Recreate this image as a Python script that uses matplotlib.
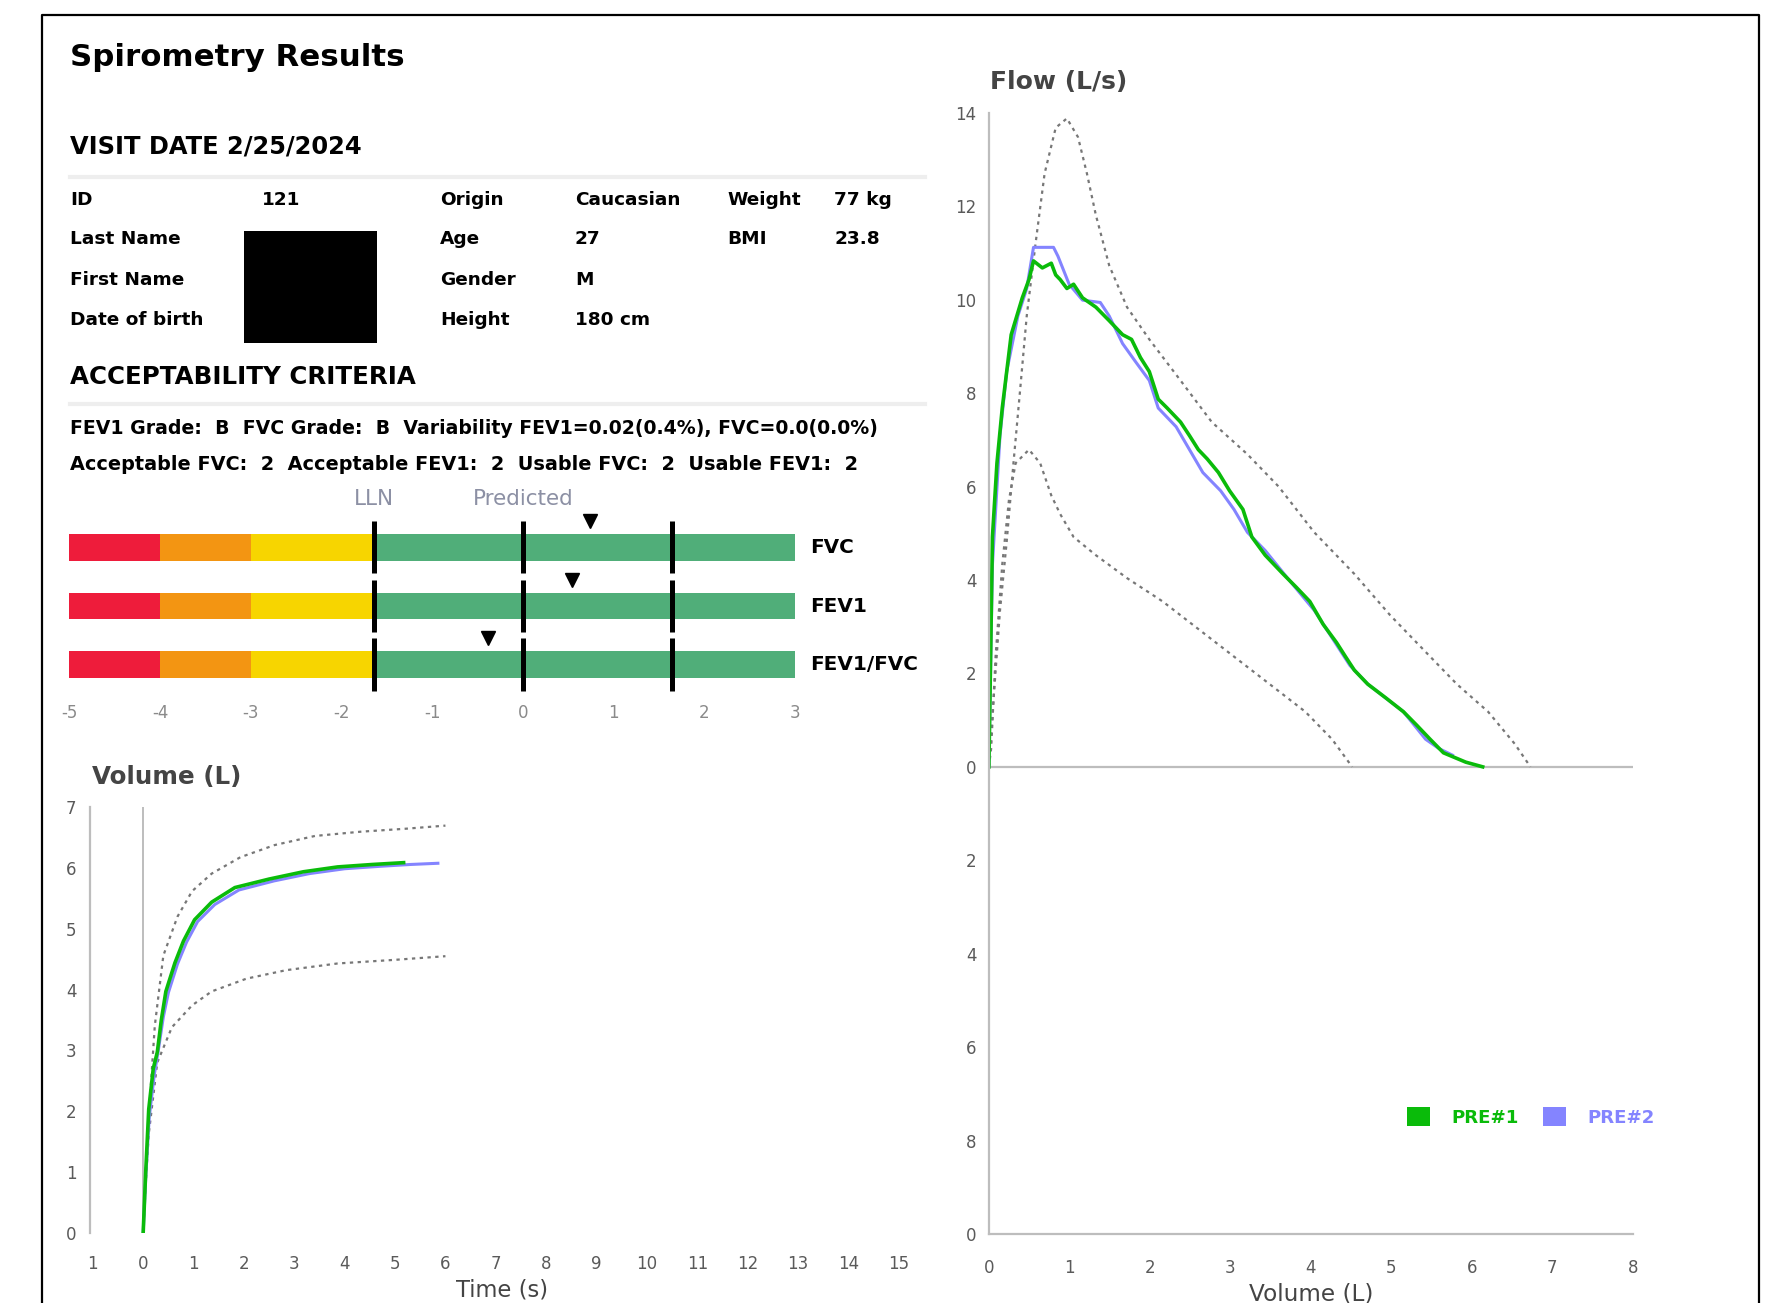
import matplotlib
matplotlib.use('Agg')
import matplotlib.pyplot as plt
from matplotlib.patches import Rectangle, Patch
from matplotlib.lines import Line2D

W, H = 1768, 1303

# ---- patient / session info
info_rows = [
    ('ID', '121', 'Origin', 'Caucasian', 'Weight', '77 kg'),
    ('Last Name', '', 'Age', '27', 'BMI', '23.8'),
    ('First Name', '', 'Gender', 'M', '', ''),
    ('Date of birth', '', 'Height', '180 cm', '', ''),
]
visit_date = '2/25/2024'
criteria_line1 = 'FEV1 Grade:  B  FVC Grade:  B  Variability FEV1=0.02(0.4%), FVC=0.0(0.0%)'
criteria_line2 = 'Acceptable FVC:  2  Acceptable FEV1:  2  Usable FVC:  2  Usable FEV1:  2'

# ---- z-score bars
z_params = ['FVC', 'FEV1', 'FEV1/FVC']
z_scores = [0.74, 0.54, -0.38]
z_lln = -1.645
z_uln = 1.645
z_bands = [(-5, -4, '#ee1c3b'), (-4, -3, '#f39512'), (-3, z_lln, '#f7d500'), (z_lln, 3, '#50ae79')]
z_ticks = [-5, -4, -3, -2, -1, 0, 1, 2, 3]

# ---- volume / time
vt_t1 = [0, 0.05, 0.11, 0.2, 0.28, 0.36, 0.45, 0.63, 0.8, 1.02, 1.36, 1.82, 2.5, 3.18, 3.86, 4.55, 5.17]
vt_v1 = [0, 1.0, 2.03, 2.7, 2.97, 3.5, 3.97, 4.44, 4.8, 5.15, 5.44, 5.68, 5.82, 5.94, 6.02, 6.06, 6.09]
vt_t2 = [0, 0.05, 0.12, 0.22, 0.3, 0.4, 0.5, 0.68, 0.86, 1.08, 1.42, 1.9, 2.6, 3.3, 4.0, 4.7, 5.3, 5.85]
vt_v2 = [0, 0.9, 1.9, 2.6, 3.0, 3.55, 3.95, 4.42, 4.78, 5.12, 5.4, 5.64, 5.79, 5.91, 5.99, 6.03, 6.06, 6.08]
vt_hi_t = [0, 0.05, 0.11, 0.23, 0.4, 0.68, 0.97, 1.36, 1.93, 2.61, 3.41, 4.32, 5.23, 6.0]
vt_hi_v = [0, 1.0, 1.9, 3.4, 4.56, 5.2, 5.62, 5.91, 6.18, 6.38, 6.53, 6.6, 6.65, 6.7]
vt_lo_t = [0, 0.05, 0.11, 0.28, 0.57, 0.97, 1.36, 2.05, 2.84, 3.86, 5.0, 6.0]
vt_lo_v = [0, 0.8, 1.62, 2.8, 3.38, 3.74, 3.97, 4.18, 4.32, 4.43, 4.49, 4.55]
vt_xticks = list(range(-1, 16))
vt_xlabels = ['1'] + [str(i) for i in range(0, 16)]
vt_yticks = list(range(0, 8))

# ---- flow / volume
fv_v1 = [0, 0.044, 0.10, 0.166, 0.277, 0.415, 0.498, 0.554, 0.664, 0.775, 0.83, 0.886, 0.969, 1.052,
         1.163, 1.329, 1.495, 1.661, 1.772, 1.883, 1.993, 2.104, 2.215, 2.381, 2.492, 2.602, 2.713,
         2.852, 2.99, 3.156, 3.267, 3.433, 3.654, 3.821, 3.987, 4.153, 4.319, 4.43, 4.54, 4.707,
         4.928, 5.15, 5.316, 5.482, 5.648, 5.925, 6.135]
fv_f1 = [0, 4.92, 6.5, 7.68, 9.25, 10.04, 10.43, 10.83, 10.68, 10.78, 10.53, 10.43, 10.24, 10.33,
         10.04, 9.84, 9.55, 9.25, 9.15, 8.76, 8.46, 7.87, 7.68, 7.38, 7.09, 6.79, 6.59,
         6.30, 5.91, 5.51, 4.92, 4.53, 4.13, 3.84, 3.54, 3.05, 2.66, 2.36, 2.07, 1.77,
         1.48, 1.18, 0.89, 0.59, 0.30, 0.10, 0]
fv_v2 = [0, 0.044, 0.138, 0.221, 0.36, 0.47, 0.554, 0.692, 0.803, 0.858, 0.997, 1.163, 1.384, 1.495,
         1.661, 1.827, 1.993, 2.104, 2.326, 2.492, 2.658, 2.879, 3.045, 3.212, 3.433, 3.71, 4.042,
         4.264, 4.485, 4.707, 5.15, 5.426, 5.593, 5.76]
fv_f2 = [0, 4.33, 7.09, 8.46, 9.65, 10.24, 11.12, 11.12, 11.12, 10.93, 10.33, 9.99, 9.94, 9.65,
         9.06, 8.66, 8.27, 7.68, 7.28, 6.79, 6.30, 5.91, 5.51, 5.02, 4.63, 4.04, 3.35,
         2.76, 2.17, 1.77, 1.18, 0.59, 0.39, 0.25]
fv_hi_v = [0, 0.055, 0.138, 0.221, 0.305, 0.388, 0.47, 0.581, 0.692, 0.83, 0.969, 1.107, 1.218, 1.329,
           1.495, 1.716, 1.993, 2.381, 2.769, 3.212, 3.599, 4.042, 4.54, 4.983, 5.426, 5.814, 6.202,
           6.534, 6.728]
fv_hi_f = [0, 1.38, 3.35, 4.82, 6.5, 8.07, 9.65, 11.22, 12.7, 13.68, 13.88, 13.48, 12.7, 11.81,
           10.73, 9.84, 9.15, 8.27, 7.38, 6.69, 6.0, 5.02, 4.13, 3.25, 2.46, 1.77, 1.18,
           0.49, 0]
fv_lo_v = [0, 0.028, 0.083, 0.166, 0.249, 0.332, 0.498, 0.637, 0.775, 0.886, 1.052, 1.329, 1.716,
           2.159, 2.602, 3.045, 3.488, 3.931, 4.264, 4.513]
fv_lo_f = [0, 0.39, 2.36, 4.33, 5.71, 6.5, 6.79, 6.5, 5.81, 5.41, 4.92, 4.53, 4.04,
           3.54, 2.95, 2.36, 1.77, 1.18, 0.59, 0]
fv_xticks = list(range(0, 9))
fv_yticks = list(range(-10, 15, 2))
fv_ylabels = ['0', '8', '6', '4', '2', '0', '2', '4', '6', '8', '10', '12', '14']

trial_names = ['PRE#1', 'PRE#2']
trial_colors = ['#0abb0a', '#8484ff']
PRED_COLOR = '#777777'
AXIS_GRAY = '#bdbdbd'
TICK_GRAY = '#5a5a5a'

plt.rcParams['font.family'] = ['DejaVu Sans']


def fx(px):
    return px / W


def fy(py):
    return 1 - py / H


def add_axes_px(fig, left, top, right, bottom):
    return fig.add_axes([fx(left), fy(bottom), (right - left) / W, (bottom - top) / H])


def fit_size(fig, s, width, weight='bold'):
    """font size that makes s about width pixels wide"""
    t = fig.text(0, 0, s, fontsize=10, fontweight=weight)
    bb = t.get_window_extent(renderer=fig.canvas.get_renderer())
    t.remove()
    return 10 * width / bb.width


fig = plt.figure(figsize=(W / 100, H / 100), dpi=100)

# page frame (open at the bottom)
fig.add_artist(Line2D([fx(42), fx(42), fx(1759), fx(1759)], [0, fy(15), fy(15), 0],
                      color='black', lw=1.6))

# ---- header
fig.text(fx(70), fy(58), 'Spirometry Results', fontweight='bold', va='center',
         fontsize=fit_size(fig, 'Spirometry Results', 334))
fig.text(fx(70), fy(146), 'VISIT DATE ' + visit_date, fontweight='bold', va='center',
         fontsize=fit_size(fig, 'VISIT DATE ' + visit_date, 294))
fig.add_artist(Line2D([fx(70), fx(925)], [fy(177), fy(177)], color='#eeeeee', lw=3))

table_size = fit_size(fig, 'Caucasian', 106)
col_x = [70, 262, 440, 575, 727, 834]
row_y = [200, 239, 280, 320]
for ry, row in zip(row_y, info_rows):
    for cx, txt in zip(col_x, row):
        if txt:
            fig.text(fx(cx), fy(ry), txt, fontsize=table_size, fontweight='bold', va='center')
# redacted names
fig.add_artist(Rectangle((fx(244), fy(343)), 133 / W, 112 / H, transform=fig.transFigure,
                         facecolor='black', edgecolor='none'))

fig.text(fx(70), fy(377), 'ACCEPTABILITY CRITERIA', fontweight='bold', va='center',
         fontsize=fit_size(fig, 'ACCEPTABILITY CRITERIA', 347))
fig.add_artist(Line2D([fx(70), fx(925)], [fy(404), fy(404)], color='#eeeeee', lw=3))
fig.text(fx(70), fy(428), criteria_line1, fontweight='bold', va='center',
         fontsize=fit_size(fig, criteria_line1, 807))
fig.text(fx(70), fy(464), criteria_line2, fontweight='bold', va='center',
         fontsize=fit_size(fig, criteria_line2, 787))

# ---- z-score bars
row_px = 58.7
ax_z = add_axes_px(fig, 69.3, 547.3 - row_px, 795, 547.3 + 3 * row_px)
ax_z.set_xlim(-5, 3)
ax_z.set_ylim(3, -1)
ax_z.axis('off')
bar_h = 26.7 / row_px
label_size = fit_size(fig, 'FEV1/FVC', 108)
for i, name in enumerate(z_params):
    for lo, hi, col in z_bands:
        ax_z.barh(i, hi - lo, left=lo, height=bar_h, color=col, edgecolor='none')
    for xv in (z_lln, 0, z_uln):
        ax_z.plot([xv, xv], [i - 0.45, i + 0.44], color='black', lw=3.6, solid_capstyle='butt')
    ax_z.plot(z_scores[i], i - 0.45, marker='v', color='black', markersize=10)
    ax_z.text(3.17, i, name, fontsize=label_size, fontweight='bold', va='center', ha='left',
              clip_on=False)
for t in z_ticks:
    ax_z.text(t, 2.82, str(t), fontsize=12, color='#8a8a8a', ha='center', va='center')
ref_size = fit_size(fig, 'Predicted', 101, weight='normal')
ax_z.text(z_lln, -0.83, 'LLN', fontsize=ref_size, color='#8c90a4', ha='center', va='center')
ax_z.text(0, -0.83, 'Predicted', fontsize=ref_size, color='#8c90a4', ha='center', va='center')


def style_axes(ax):
    for side in ('top', 'right', 'bottom'):
        ax.spines[side].set_visible(False)
    ax.spines['left'].set_color(AXIS_GRAY)
    ax.spines['left'].set_linewidth(1.6)
    ax.tick_params(length=0, labelsize=12, labelcolor=TICK_GRAY)


# ---- volume / time
ax_vt = add_axes_px(fig, 90.3, 807.4, 913.9, 1232.5)
ax_vt.set_xlim(-1.05, 15.3)
ax_vt.set_ylim(0, 7)
style_axes(ax_vt)
ax_vt.tick_params(axis='x', pad=16)
ax_vt.tick_params(axis='y', pad=10)
ax_vt.set_xticks(vt_xticks)
ax_vt.set_xticklabels(vt_xlabels)
ax_vt.set_yticks(vt_yticks)
ax_vt.axvline(0, color=AXIS_GRAY, lw=1.4)
ax_vt.plot(vt_hi_t, vt_hi_v, color=PRED_COLOR, lw=1.6, ls=(0, (1.5, 2)))
ax_vt.plot(vt_lo_t, vt_lo_v, color=PRED_COLOR, lw=1.6, ls=(0, (1.5, 2)))
ax_vt.plot(vt_t2, vt_v2, color=trial_colors[1], lw=2.2)
ax_vt.plot(vt_t1, vt_v1, color=trial_colors[0], lw=2.6)
fig.text(fx(92), fy(777), 'Volume (L)', color='#444444', va='center', fontweight='bold',
         fontsize=fit_size(fig, 'Volume (L)', 150))
ax_vt.set_xlabel('Time (s)', fontsize=fit_size(fig, 'Time (s)', 92, weight='normal'),
                 color='#444444', labelpad=4)

# ---- flow / volume
ax_fv = add_axes_px(fig, 988.9, 112.8, 1632.8, 1234)
ax_fv.set_xlim(0, 8)
ax_fv.set_ylim(-10, 14)
style_axes(ax_fv)
ax_fv.spines['bottom'].set_visible(True)
ax_fv.spines['bottom'].set_color(AXIS_GRAY)
ax_fv.spines['bottom'].set_linewidth(1.6)
ax_fv.tick_params(axis='x', pad=18)
ax_fv.tick_params(axis='y', pad=9)
ax_fv.set_xticks(fv_xticks)
ax_fv.set_yticks(fv_yticks)
ax_fv.set_yticklabels(fv_ylabels)
ax_fv.axhline(0, color=AXIS_GRAY, lw=1.6)
ax_fv.plot(fv_hi_v, fv_hi_f, color=PRED_COLOR, lw=1.6, ls=(0, (1.5, 2)))
ax_fv.plot(fv_lo_v, fv_lo_f, color=PRED_COLOR, lw=1.6, ls=(0, (1.5, 2)))
ax_fv.plot(fv_v2, fv_f2, color=trial_colors[1], lw=2.2)
ax_fv.plot(fv_v1, fv_f1, color=trial_colors[0], lw=2.6)
fig.text(fx(990), fy(82), 'Flow (L/s)', color='#444444', va='center', fontweight='bold',
         fontsize=fit_size(fig, 'Flow (L/s)', 138))
ax_fv.set_xlabel('Volume (L)', fontsize=fit_size(fig, 'Volume (L)', 124, weight='normal'),
                 color='#444444', labelpad=4)

leg_size = fit_size(fig, 'PRE#1', 68)
handles = [Patch(facecolor=c, edgecolor='none') for c in trial_colors]
ax_fv.legend(handles, trial_names, ncol=2, frameon=False, loc='center left',
             bbox_to_anchor=(fx(1391), fy(1117)), bbox_transform=fig.transFigure,
             handlelength=1.25, handleheight=1.25, handletextpad=1.2, columnspacing=1.3,
             labelcolor=trial_colors, prop={'weight': 'bold', 'size': leg_size})

fig.savefig('out.png', dpi=100)
